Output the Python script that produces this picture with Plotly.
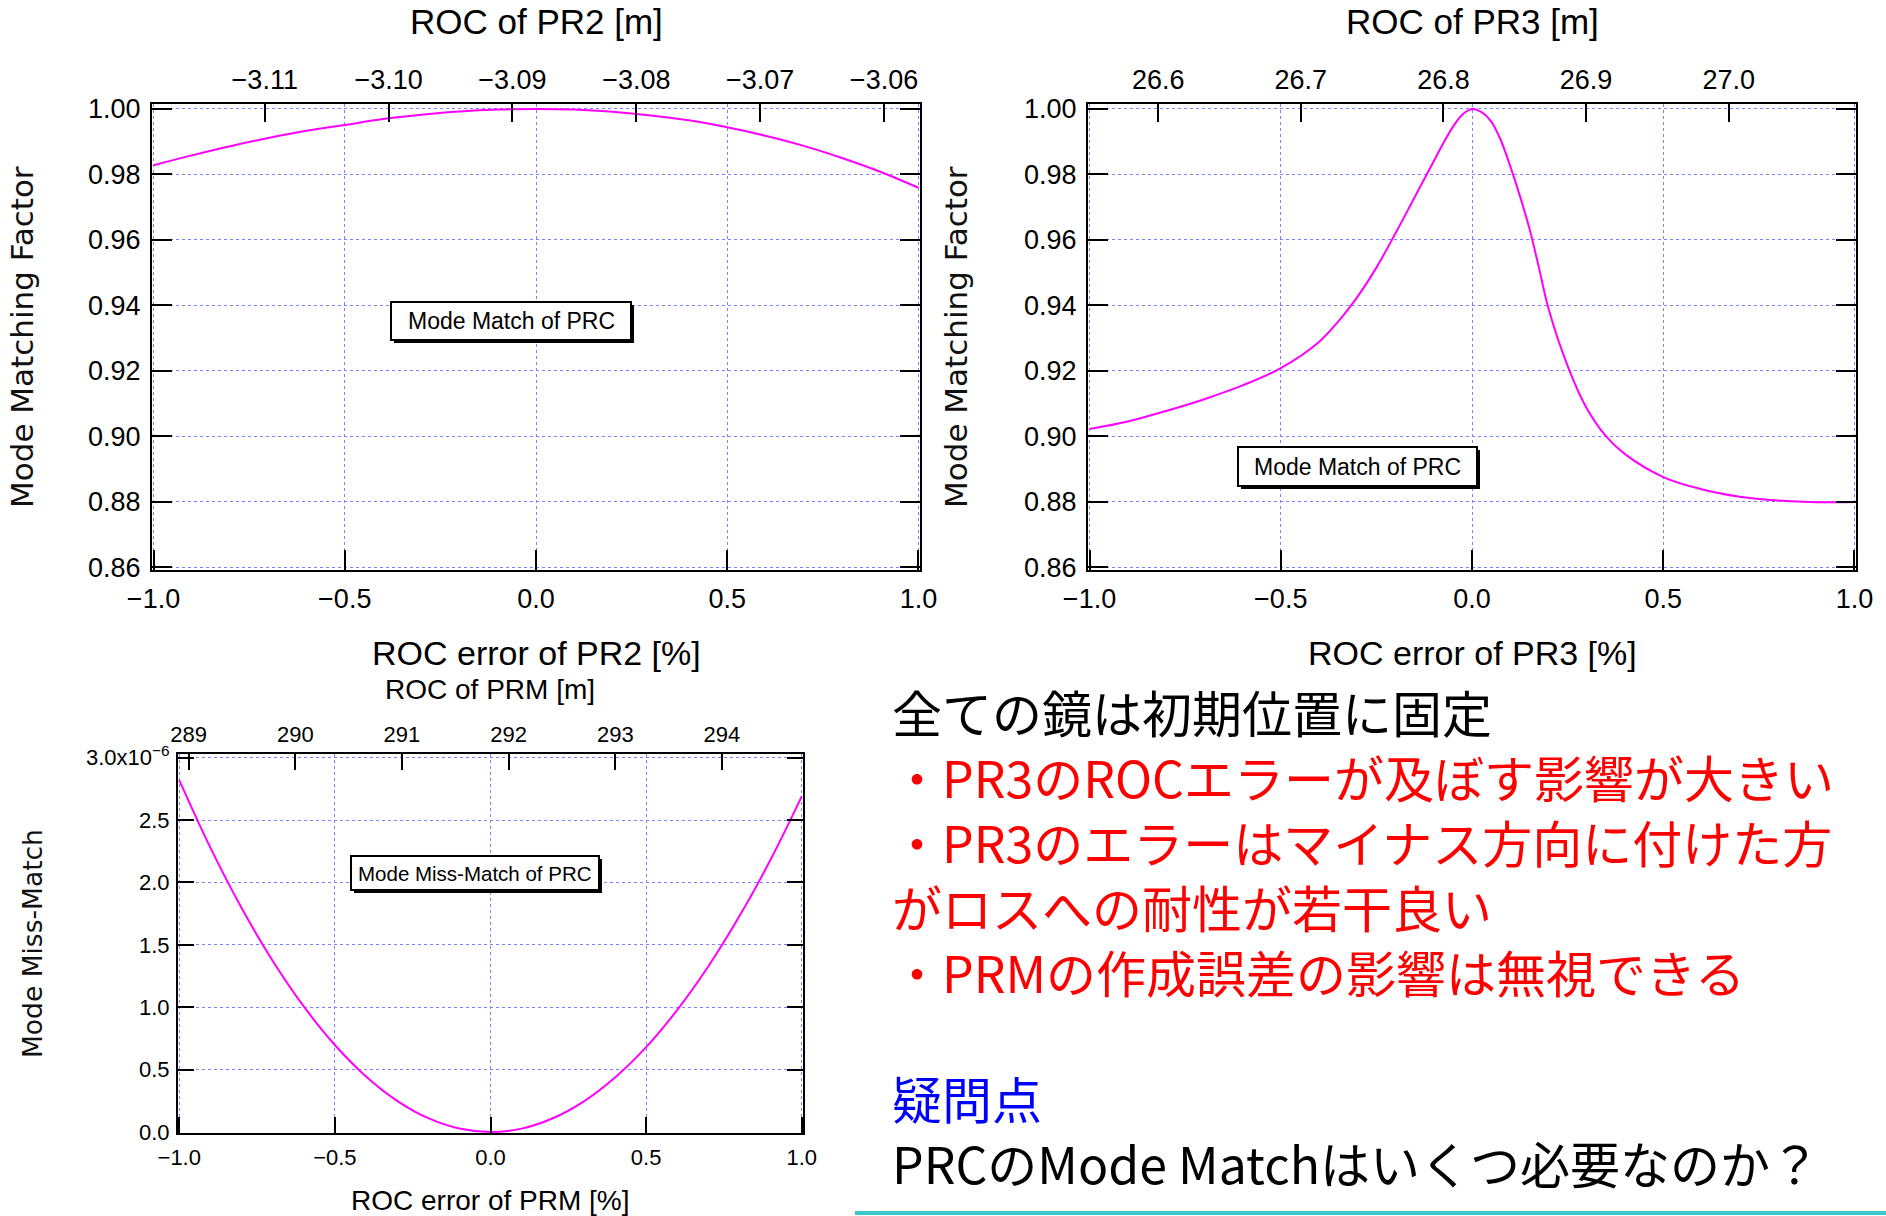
import plotly.graph_objects as go

# ---------------------------------------------------------------- data
# ROC error [%] sampled for the PR2 and PRM scans
ROC_ERROR_PCT = [-1.0, -0.9, -0.8, -0.7, -0.6, -0.5, -0.4, -0.3, -0.2, -0.1, 0.0,
                 0.1, 0.2, 0.3, 0.4, 0.5, 0.6, 0.7, 0.8, 0.9, 1.0]

# Mode matching factor of the PRC vs. PR2 ROC error
PR2_MODE_MATCH = [0.9828, 0.9858, 0.9886, 0.9911, 0.9933, 0.9951, 0.9969, 0.9982,
                  0.9992, 0.9998, 1.0000, 0.9998, 0.9991, 0.9980, 0.9965, 0.9944,
                  0.9918, 0.9887, 0.9850, 0.9808, 0.9759]

# PR3 scan is sampled more finely around the sharp peak
PR3_ERROR_PCT = [-1.0, -0.9, -0.8, -0.7, -0.6, -0.5, -0.4, -0.35, -0.3, -0.25, -0.2,
                 -0.15, -0.1, -0.075, -0.05, -0.025, 0.0, 0.025, 0.05, 0.075, 0.1,
                 0.125, 0.15, 0.175, 0.2, 0.25, 0.3, 0.35, 0.4, 0.5, 0.6, 0.7, 0.8,
                 0.9, 1.0]
PR3_MODE_MATCH = [0.9022, 0.9045, 0.9077, 0.9113, 0.9155, 0.9208, 0.9288, 0.9350,
                  0.9425, 0.9515, 0.9620, 0.9730, 0.9840, 0.9895, 0.9945, 0.9983,
                  1.0000, 0.9990, 0.9962, 0.9905, 0.9825, 0.9735, 0.9635, 0.9515,
                  0.9390, 0.9215, 0.9085, 0.9000, 0.8945, 0.8875, 0.8838, 0.8815,
                  0.8803, 0.8798, 0.8799]

# Mode miss-match of the PRC vs. PRM ROC error, in units of 1e-6
PRM_MISMATCH_E6 = [2.820, 2.279, 1.797, 1.372, 1.006, 0.697, 0.445, 0.250, 0.111,
                   0.028, 0.000, 0.027, 0.110, 0.246, 0.437, 0.680, 0.978, 1.328,
                   1.730, 2.184, 2.690]

# Nominal radii of curvature [m] and the labelled ticks of the top axes
PR2_ROC_M = -3.0881
PR3_ROC_M = 26.82
PRM_ROC_M = 291.83
PR2_TOP_TICKS = [-3.11, -3.10, -3.09, -3.08, -3.07, -3.06]
PR3_TOP_TICKS = [26.6, 26.7, 26.8, 26.9, 27.0]
PRM_TOP_TICKS = [289, 290, 291, 292, 293, 294]

ERROR_TICKS = [-1.0, -0.5, 0.0, 0.5, 1.0]
MM_TICKS = [0.86, 0.88, 0.90, 0.92, 0.94, 0.96, 0.98, 1.00]
MISMATCH_TICKS = [0.0, 0.5, 1.0, 1.5, 2.0, 2.5, 3.0]

NOTES_MAIN = [
    ("全ての鏡は初期位置に固定", "#000000"),
    ("・PR3のROCエラーが及ぼす影響が大きい", "#ff0000"),
    ("・PR3のエラーはマイナス方向に付けた方", "#ff0000"),
    ("がロスへの耐性が若干良い", "#ff0000"),
    ("・PRMの作成誤差の影響は無視できる", "#ff0000"),
]
NOTES_QUESTION = [
    ("疑問点", "#0000ff"),
    ("PRCのMode Matchはいくつ必要なのか？", "#000000"),
]

# ---------------------------------------------------------------- layout helpers
W, H = 1886, 1216
TICK_FONT = "Liberation Sans, Arial, sans-serif"
TITLE_FONT = "DejaVu Sans, Verdana, sans-serif"
JP_FONT = "Noto Sans CJK JP, sans-serif"
GRID = "#8080ff"
MAGENTA = "#ff00ff"
X_PAD = 1.004


def px(x):
    return x / W


def py(y):
    return 1 - y / H


def fmt_minus(v, nd):
    return f"{v:.{nd}f}".replace("-", "\u2212")


def top_range(r0):
    a, b = r0 * (1 - 0.01 * X_PAD), r0 * (1 + 0.01 * X_PAD)
    return [min(a, b), max(a, b)]


def frame_axis(**kw):
    base = dict(showline=True, linewidth=2, linecolor="black",
                ticks="inside", tickwidth=2, tickcolor="black",
                zeroline=False, color="black", automargin=False)
    base.update(kw)
    return base


def grid_kw():
    return dict(showgrid=True, gridcolor=GRID, griddash="dot", gridwidth=1)


fig = go.Figure()

# ---------------------------------------------------------------- traces
curve = dict(color=MAGENTA, width=2, shape="spline", smoothing=1.0)
fig.add_trace(go.Scatter(x=ROC_ERROR_PCT, y=PR2_MODE_MATCH, mode="lines", line=curve,
                         xaxis="x", yaxis="y", showlegend=False, hoverinfo="skip"))
fig.add_trace(go.Scatter(x=[], y=[], xaxis="x2", yaxis="y", showlegend=False, hoverinfo="skip"))

fig.add_trace(go.Scatter(x=PR3_ERROR_PCT, y=PR3_MODE_MATCH, mode="lines", line=curve,
                         xaxis="x3", yaxis="y3", showlegend=False, hoverinfo="skip"))
fig.add_trace(go.Scatter(x=[], y=[], xaxis="x4", yaxis="y3", showlegend=False, hoverinfo="skip"))

fig.add_trace(go.Scatter(x=ROC_ERROR_PCT, y=PRM_MISMATCH_E6, mode="lines", line=curve,
                         xaxis="x5", yaxis="y5", showlegend=False, hoverinfo="skip"))
fig.add_trace(go.Scatter(x=[], y=[], xaxis="x6", yaxis="y5", showlegend=False, hoverinfo="skip"))

# ---------------------------------------------------------------- axes
top_dom_y = [py(570), py(104)]
big_font = dict(family=TICK_FONT, size=27, color="black")
small_font = dict(family=TICK_FONT, size=22, color="black")
err_text = [fmt_minus(v, 1) for v in ERROR_TICKS]
mm_text = [f"{v:.2f}" for v in MM_TICKS]

# PR2 panel
fig.update_layout(
    xaxis=frame_axis(domain=[px(152), px(920)], anchor="y", range=[-X_PAD, X_PAD],
                     tickvals=ERROR_TICKS, ticktext=err_text, ticklen=20,
                     tickfont=big_font, ticklabelstandoff=4, mirror=False, **grid_kw()),
    xaxis2=frame_axis(overlaying="x", side="top", anchor="y", range=top_range(PR2_ROC_M),
                      tickvals=PR2_TOP_TICKS, ticktext=[fmt_minus(v, 2) for v in PR2_TOP_TICKS],
                      ticklen=18, tickfont=big_font, ticklabelstandoff=2, showgrid=False),
    yaxis=frame_axis(domain=top_dom_y, anchor="x", range=[0.8591, 1.0015],
                     tickvals=MM_TICKS, ticktext=mm_text, ticklen=20, tickfont=big_font,
                     ticklabelstandoff=4, mirror="ticks", **grid_kw()),
)

# PR3 panel
fig.update_layout(
    xaxis3=frame_axis(domain=[px(1088), px(1856)], anchor="y3", range=[-X_PAD, X_PAD],
                      tickvals=ERROR_TICKS, ticktext=err_text, ticklen=20,
                      tickfont=big_font, ticklabelstandoff=4, mirror=False, **grid_kw()),
    xaxis4=frame_axis(overlaying="x3", side="top", anchor="y3", range=top_range(PR3_ROC_M),
                      tickvals=PR3_TOP_TICKS, ticktext=[f"{v:.1f}" for v in PR3_TOP_TICKS],
                      ticklen=18, tickfont=big_font, ticklabelstandoff=2, showgrid=False),
    yaxis3=frame_axis(domain=top_dom_y, anchor="x3", range=[0.8591, 1.0015],
                      tickvals=MM_TICKS, ticktext=mm_text, ticklen=20, tickfont=big_font,
                      ticklabelstandoff=4, mirror="ticks", **grid_kw()),
)

# PRM panel
mis_text = [f"{v:.1f}" for v in MISMATCH_TICKS]
mis_text[-1] = "3.0x10<sup>\u22126</sup>"
fig.update_layout(
    xaxis5=frame_axis(domain=[px(178), px(803)], anchor="y5", range=[-X_PAD, X_PAD],
                      tickvals=ERROR_TICKS, ticktext=err_text, ticklen=16,
                      tickfont=small_font, ticklabelstandoff=4, mirror=False, **grid_kw()),
    xaxis6=frame_axis(overlaying="x5", side="top", anchor="y5", range=top_range(PRM_ROC_M),
                      tickvals=PRM_TOP_TICKS, ticktext=[str(v) for v in PRM_TOP_TICKS],
                      ticklen=16, tickfont=small_font, ticklabelstandoff=1, showgrid=False),
    yaxis5=frame_axis(domain=[py(1133), py(754)], anchor="x5", range=[-0.008, 3.029],
                      tickvals=MISMATCH_TICKS, ticktext=mis_text, ticklen=16,
                      tickfont=small_font, ticklabelstandoff=2, mirror="ticks", **grid_kw()),
)

# ---------------------------------------------------------------- titles
annotations = []


def label(x, y, text, size, family=TICK_FONT, color="black", angle=0,
          xanchor="center", align="center"):
    annotations.append(dict(x=px(x), y=py(y), xref="paper", yref="paper", text=text,
                            showarrow=False, textangle=angle, xanchor=xanchor,
                            yanchor="middle", align=align,
                            font=dict(family=family, size=size, color=color)))


label(536, 22, "ROC of PR2 [m]", 35)
label(536, 653, "ROC error of PR2 [%]", 34)
label(22, 337, "Mode Matching Factor", 31, family=TITLE_FONT, color="#111111", angle=-90)

label(1472, 22, "ROC of PR3 [m]", 35)
label(1472, 653, "ROC error of PR3 [%]", 34)
label(956, 337, "Mode Matching Factor", 31, family=TITLE_FONT, color="#111111", angle=-90)

label(490, 689, "ROC of PRM [m]", 28)
label(490, 1200, "ROC error of PRM [%]", 28)
label(32, 944, "Mode Miss-Match", 26.5, family=TITLE_FONT, color="#111111", angle=-90)

# ---------------------------------------------------------------- boxed labels
shapes = []


def boxed(x0, y0, x1, y1, text, size):
    shapes.append(dict(type="rect", xref="paper", yref="paper", layer="above",
                       x0=px(x0 + 3), x1=px(x1 + 3), y0=py(y1 + 3), y1=py(y0 + 3),
                       fillcolor="black", line=dict(width=0)))
    shapes.append(dict(type="rect", xref="paper", yref="paper", layer="above",
                       x0=px(x0), x1=px(x1), y0=py(y1), y1=py(y0),
                       fillcolor="white", line=dict(color="black", width=2)))
    label((x0 + x1) / 2, (y0 + y1) / 2, text, size)


boxed(391, 302, 631, 340, "Mode Match of PRC", 23)
boxed(1238, 447, 1477, 486, "Mode Match of PRC", 23)
boxed(351, 856, 599, 890, "Mode Miss-Match of PRC", 20.5)

# ---------------------------------------------------------------- notes


def note_block(lines):
    return "<br>".join(f'<span style="color:{c}">{t}</span>' for t, c in lines)


TEXT_X = 890
label(TEXT_X, 841, note_block(NOTES_MAIN), 50, family=JP_FONT, xanchor="left", align="left")
label(TEXT_X, 1129.5, note_block(NOTES_QUESTION), 50, family=JP_FONT, xanchor="left",
      align="left")

shapes.append(dict(type="line", xref="paper", yref="paper", x0=px(855), x1=1.0,
                   y0=py(1213), y1=py(1213), line=dict(color="#3cc8c8", width=4)))

fig.update_layout(
    template="none",
    width=W, height=H, margin=dict(l=0, r=0, t=0, b=0, pad=0),
    paper_bgcolor="white", plot_bgcolor="white", showlegend=False,
    annotations=annotations, shapes=shapes,
)

fig.write_html("out.html")
